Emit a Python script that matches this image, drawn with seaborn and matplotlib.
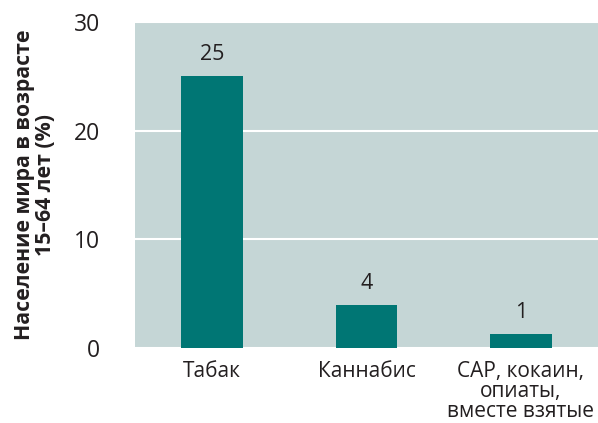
import matplotlib
matplotlib.use("Agg")
import matplotlib.pyplot as plt
import seaborn as sns
import pandas as pd

# Data
categories = ["Табак", "Каннабис", "САР, кокаин,\nопиаты,\nвместе взятые"]
values = [25, 4, 1.3]
value_labels = ["25", "4", "1"]
y_ticks = [0, 10, 20, 30]

df = pd.DataFrame({"cat": categories, "val": values})

sns.set_style("white")
plt.rcParams["font.family"] = ["Open Sans", "DejaVu Sans"]

fig = plt.figure(figsize=(5.98, 4.23), dpi=100)
ax = fig.add_axes([0.226, 0.177, 0.774, 0.771])
ax.set_facecolor("#c5d6d6")

sns.barplot(x="cat", y="val", data=df, color="#007674", width=0.4,
            saturation=1, linewidth=0, ax=ax, zorder=3)

ax.set_ylim(0, 30)
ax.set_xlim(-0.5, 2.5)
ax.set_yticks(y_ticks)
ax.yaxis.grid(True, color="white", linewidth=1.5, zorder=0)
ax.set_axisbelow(True)
for s in ax.spines.values():
    s.set_visible(False)

ax.tick_params(axis="y", length=0, pad=25, labelsize=16.5, labelcolor="#231f20")
ax.tick_params(axis="x", length=0, pad=9, labelsize=15, labelcolor="#231f20")
for lbl in ax.get_xticklabels():
    lbl.set_linespacing(0.95)
    lbl.set_verticalalignment("top")

for i, (v, t) in enumerate(zip(values, value_labels)):
    ax.annotate(t, (i, v), xytext=(0, 8), textcoords="offset points",
                ha="center", va="bottom", fontsize=15.5, color="#231f20")

ax.set_xlabel("")
ax.set_ylabel("Население мира в возрасте\n15–64 лет (%)", fontsize=15.3,
              fontweight="bold", color="#231f20", linespacing=0.95)
ax.yaxis.set_label_coords(-0.172, 0.5)

fig.savefig("out.png", dpi=100, facecolor="white")
